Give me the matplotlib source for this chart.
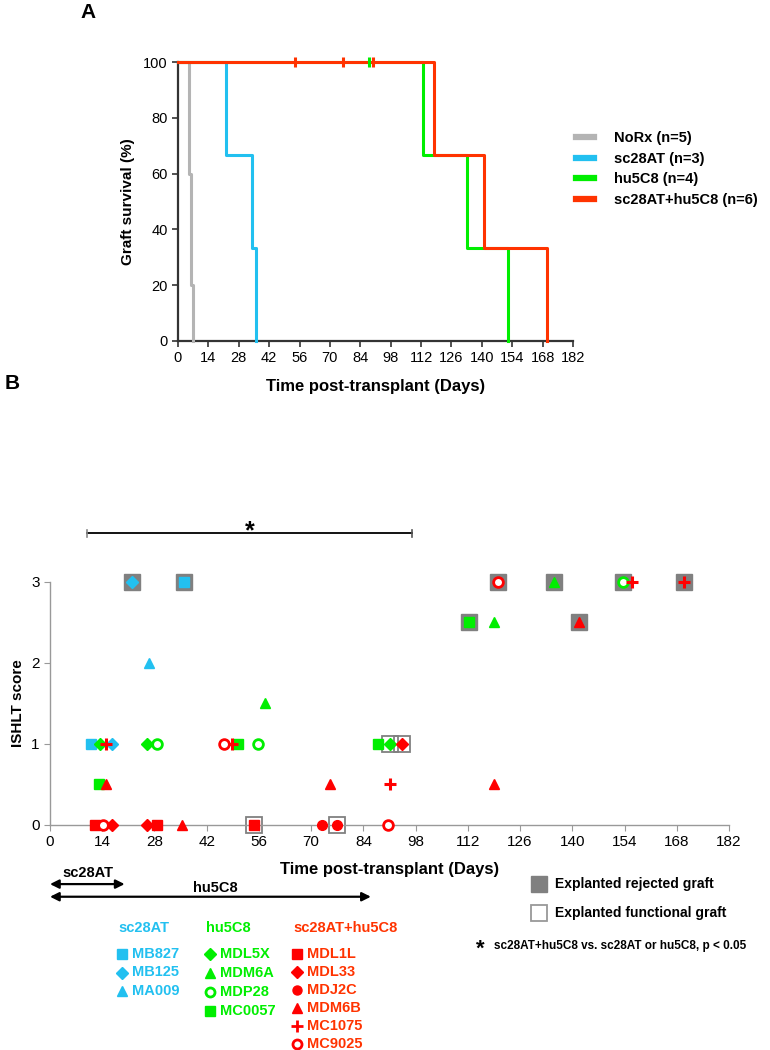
import numpy as np
import matplotlib.pyplot as plt
from matplotlib.lines import Line2D

plt.rcParams['font.family'] = ['Liberation Sans', 'DejaVu Sans']

# ---------------- data ----------------
# panel A: event (death) days and censored days per group
km_groups = ['NoRx (n=5)', 'sc28AT (n=3)', 'hu5C8 (n=4)', 'sc28AT+hu5C8 (n=6)']
norx_events = [5, 5, 6, 6, 7]
norx_censored = []
sc28at_events = [22, 34, 36]
sc28at_censored = []
hu5c8_events = [113, 133, 152]
hu5c8_censored = [88]
combo_events = [118, 141, 170]
combo_censored = [54, 76, 90]

# panel B: biopsy days and ISHLT scores per animal
mb827_days, mb827_scores = [11, 36], [1, 3]
mb125_days, mb125_scores = [16.5, 22], [1, 3]
ma009_days, ma009_scores = [26.5], [2]

mdl5x_days, mdl5x_scores = [13.3, 26, 91], [1, 1, 1]
mdm6a_days, mdm6a_scores = [57.5, 119, 135], [1.5, 2.5, 3]
mdp28_days, mdp28_scores = [28.8, 55.8, 153.5], [1, 1, 3]
mc0057_days, mc0057_scores = [13, 50.5, 88, 112.4], [0.5, 1, 1, 2.5]

mdl1l_days, mdl1l_scores = [12, 28.8, 54.8], [0, 0, 0]
mdl33_days, mdl33_scores = [16.5, 26, 94.3], [0, 0, 1]
mdj2c_days, mdj2c_scores = [72.8, 77], [0, 0]
mdm6b_days, mdm6b_scores = [15, 35.5, 75, 119, 141.7], [0.5, 0, 0.5, 0.5, 2.5]
mc1075_days, mc1075_scores = [15, 48.7, 91, 156, 170], [1, 1, 0.5, 3, 3]
mc9025_days, mc9025_scores = [14.3, 46.6, 90.7, 120], [0, 1, 0, 3]

rejected_days = [22, 36, 112.4, 120, 135, 141.7, 153.5, 170]
rejected_scores = [3, 3, 2.5, 3, 3, 2.5, 3, 3]
functional_days = [54.8, 77, 91, 94.3]
functional_scores = [0, 0, 1, 1]

sc28at_treat_end = 20
hu5c8_treat_end = 86
sig_start, sig_end = 10, 97

# ---------------- colours ----------------
gray_c = '#b4b4b4'
cyan_c = '#22c0f0'
green_c = '#00ee00'
redA_c = '#ff3300'
red_c = '#ff0000'
box_c = '#808080'


def km_curve(events, censored):
    times = sorted(set(events) | set(censored))
    n = len(events) + len(censored)
    s = 100.0
    xs, ys = [0], [100.0]
    cx, cy = [], []
    for t in times:
        d = events.count(t)
        c = censored.count(t)
        if d:
            s = s * (n - d) / n
            xs.append(t)
            ys.append(s)
        if c:
            cx.append(t)
            cy.append(s)
        n -= d + c
    return xs, ys, cx, cy


fig = plt.figure(figsize=(7.7, 10.5), dpi=100)

# ---------------- panel A ----------------
axA = fig.add_axes([178 / 770, 1 - 341 / 1050, 395 / 770, 279 / 1050])
km_data = [(norx_events, norx_censored, gray_c),
           (sc28at_events, sc28at_censored, cyan_c),
           (hu5c8_events, hu5c8_censored, green_c),
           (combo_events, combo_censored, redA_c)]
handles = []
for (ev, ce, col), lab in zip(km_data, km_groups):
    xs, ys, cx, cy = km_curve(ev, ce)
    axA.step(xs, ys, where='post', color=col, lw=2.2, clip_on=False, zorder=3)
    if cx:
        axA.plot(cx, cy, ls='none', marker='|', ms=7, mew=2.2, color=col,
                 clip_on=False, zorder=4)
    handles.append(Line2D([], [], color=col, lw=4.5, label=lab))

axA.set_xlim(0, 182)
axA.set_ylim(0, 100)
axA.set_xticks(range(0, 183, 14))
axA.set_yticks(range(0, 101, 20))
for sp in ['top', 'right']:
    axA.spines[sp].set_visible(False)
for sp in ['left', 'bottom']:
    axA.spines[sp].set_color('#333333')
    axA.spines[sp].set_linewidth(1.6)
axA.tick_params(direction='out', length=4, width=1.2, colors='#333333',
                labelcolor='black', labelsize=10.5)
axA.set_ylabel('Graft survival (%)', fontsize=11, fontweight='bold', labelpad=6)
axA.set_xlabel('Time post-transplant (Days)', fontsize=12, fontweight='bold',
               labelpad=10)
fig.text(88 / 770, 1 - 13 / 1050, 'A', fontsize=15, fontweight='bold',
         ha='center', va='center')
fig.legend(handles=handles, loc='upper left',
           bbox_to_anchor=(563 / 770, 1 - 118 / 1050), frameon=False,
           prop={'weight': 'bold', 'size': 10.5}, handlelength=1.2,
           handletextpad=1.4, labelspacing=0.45)

# ---------------- panel B ----------------
axB = fig.add_axes([50 / 770, 1 - 825 / 1050, 679 / 770, 316 / 1050])
axB.set_xlim(0, 182)
axB.set_ylim(0, 3.9)
axB.set_xticks(range(0, 183, 14))
axB.set_yticks([0, 1, 2, 3])
for sp in ['top', 'right']:
    axB.spines[sp].set_visible(False)
axB.spines['left'].set_bounds(0, 3)
for sp in ['left', 'bottom']:
    axB.spines[sp].set_color('#999999')
    axB.spines[sp].set_linewidth(1.0)
axB.tick_params(direction='out', length=4, colors='#999999',
                labelcolor='black', labelsize=11)
axB.set_xlabel('Time post-transplant (Days)', fontsize=12, fontweight='bold',
               labelpad=9)
axB.set_ylabel('ISHLT score', fontsize=11, fontweight='bold')
axB.yaxis.set_label_coords(-0.037, 3 / 3.9 / 2)

# explanted graft boxes
axB.plot(rejected_days, rejected_scores, ls='none', marker='s', ms=11.5,
         mfc=box_c, mec=box_c, clip_on=False, zorder=2)
axB.plot(functional_days, functional_scores, ls='none', marker='s', ms=11.5,
         mfc='none', mec=box_c, mew=1.3, clip_on=False, zorder=2)

animals = [
    (mb827_days, mb827_scores, 's', cyan_c, True),
    (mb125_days, mb125_scores, 'D', cyan_c, True),
    (ma009_days, ma009_scores, '^', cyan_c, True),
    (mdl5x_days, mdl5x_scores, 'D', green_c, True),
    (mdm6a_days, mdm6a_scores, '^', green_c, True),
    (mdp28_days, mdp28_scores, 'o', green_c, False),
    (mc0057_days, mc0057_scores, 's', green_c, True),
    (mdl1l_days, mdl1l_scores, 's', red_c, True),
    (mdl33_days, mdl33_scores, 'D', red_c, True),
    (mdj2c_days, mdj2c_scores, 'o', red_c, True),
    (mdm6b_days, mdm6b_scores, '^', red_c, True),
    (mc1075_days, mc1075_scores, '+', red_c, True),
    (mc9025_days, mc9025_scores, 'o', red_c, False),
]
for d, s, m, col, filled in animals:
    kw = dict(ls='none', marker=m, color=col, clip_on=False, zorder=3)
    if m == '+':
        kw.update(ms=9, mew=2.2)
    elif m == 'D':
        kw.update(ms=6.5)
    elif filled:
        kw.update(ms=7)
    else:
        kw.update(ms=7, mfc='white', mew=2)
    axB.plot(d, s, **kw)

# significance bracket
axB.plot([sig_start, sig_end], [3.6, 3.6], color='black', lw=1.3, clip_on=False)
axB.plot([sig_start, sig_start], [3.56, 3.64], color='#888888', lw=1.2, clip_on=False)
axB.plot([sig_end, sig_end], [3.56, 3.64], color='#555555', lw=1.2, clip_on=False)
axB.text((sig_start + sig_end) / 2, 3.63, '*', fontsize=18, fontweight='bold',
         ha='center', va='center')

# treatment duration arrows
xtr = axB.get_xaxis_transform()
arr = dict(arrowstyle='<|-|>', color='black', lw=1.6, mutation_scale=13,
           shrinkA=0, shrinkB=0)
axB.annotate('', xy=(0, -0.187), xytext=(sc28at_treat_end, -0.187),
             xycoords=xtr, textcoords=xtr, arrowprops=arr, annotation_clip=False)
axB.annotate('', xy=(0, -0.227), xytext=(hu5c8_treat_end, -0.227),
             xycoords=xtr, textcoords=xtr, arrowprops=arr, annotation_clip=False)
fig.text(88 / 770, 1 - 873 / 1050, 'sc28AT', fontsize=10.5, fontweight='bold',
         ha='center', va='center')
fig.text(215 / 770, 1 - 888 / 1050, 'hu5C8', fontsize=10.5, fontweight='bold',
         ha='center', va='center')

# ---------------- animal legend ----------------
ov = fig.add_axes([0, 0, 1, 1])
ov.set_xlim(0, 770)
ov.set_ylim(1050, 0)
ov.axis('off')

cols = [
    ('sc28AT', cyan_c, 118, [('s', 'MB827'), ('D', 'MB125'), ('^', 'MA009')], 18.5),
    ('hu5C8', green_c, 206, [('D', 'MDL5X'), ('^', 'MDM6A'), ('o', 'MDP28'),
                             ('s', 'MC0057')], 19),
    ('sc28AT+hu5C8', redA_c, 293, [('s', 'MDL1L'), ('D', 'MDL33'), ('o', 'MDJ2C'),
                                   ('^', 'MDM6B'), ('+', 'MC1075'),
                                   ('o', 'MC9025')], 18),
]
for title, col, x0, items, step in cols:
    ov.text(x0, 928, title, color=col, fontsize=10.5, fontweight='bold',
            ha='left', va='center')
    mcol = red_c if col == redA_c else col
    for i, (m, name) in enumerate(items):
        y = 954 + i * step
        open_c = (m == 'o' and name in ('MDP28', 'MC9025'))
        kw = dict(ls='none', marker=m, color=mcol)
        if m == '+':
            kw.update(ms=8, mew=2)
        elif open_c:
            kw.update(ms=6.5, mfc='white', mew=2)
        elif m == 'D':
            kw.update(ms=6)
        else:
            kw.update(ms=6.5)
        ov.plot([x0 + 4], [y], **kw)
        ov.text(x0 + 14, y, name, color=col, fontsize=10.5, fontweight='bold',
                ha='left', va='center')

ov.plot([539], [884], ls='none', marker='s', ms=11.5, mfc=box_c, mec=box_c)
ov.text(555, 884, 'Explanted rejected graft', fontsize=10, fontweight='bold',
        va='center')
ov.plot([539], [912.5], ls='none', marker='s', ms=11.5, mfc='none', mec='#999999',
        mew=1.3)
ov.text(555, 912.5, 'Explanted functional graft', fontsize=10, fontweight='bold',
        va='center')
ov.text(480, 949, '*', fontsize=16, fontweight='bold', ha='center', va='center')
ov.text(494, 946.5, 'sc28AT+hu5C8 vs. sc28AT or hu5C8, p < 0.05', fontsize=8.5,
        fontweight='bold', va='center')
fig.text(12 / 770, 1 - 383 / 1050, 'B', fontsize=15, fontweight='bold',
         ha='center', va='center')

fig.savefig('out.png', dpi=100)
